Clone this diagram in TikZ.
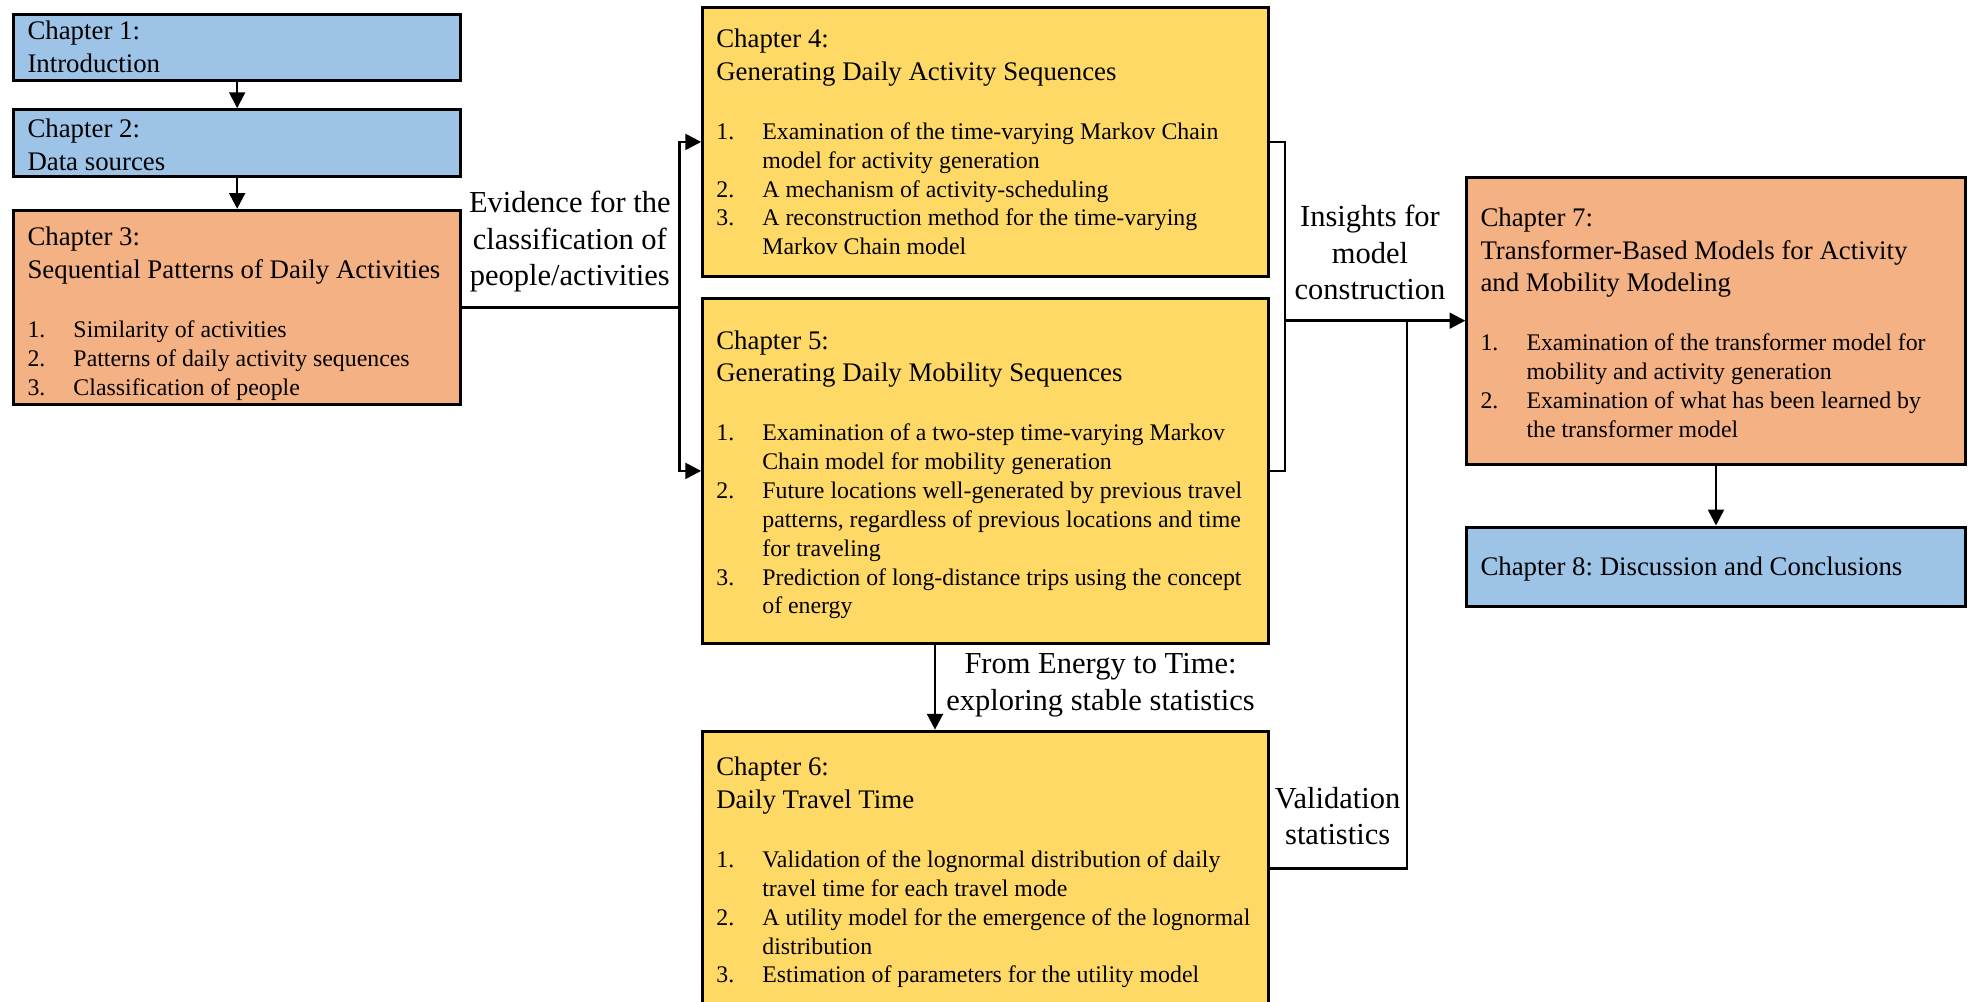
\documentclass[tikz,border=0pt]{standalone}
\usepackage{fontspec}
\setmainfont{Liberation Serif}
\usetikzlibrary{arrows.meta, positioning}

\definecolor{chblue}{HTML}{9DC3E6}
\definecolor{chorange}{HTML}{F4B183}
\definecolor{chyellow}{HTML}{FFD966}

\newcommand{\fixspace}{\spaceskip=\fontdimen2\font\xspaceskip=\fontdimen2\font\relax}
\newcommand{\titlefont}{\fontsize{16.1pt}{19.6pt}\selectfont\fixspace}
\newcommand{\itemfont}{\fontsize{14.3pt}{17.3pt}\selectfont\fixspace}
\newcommand{\lblfont}{\fontsize{18.3pt}{21.9pt}\selectfont}
\newcommand{\chtitle}[1]{\titlefont #1\par\vspace{18.2pt}}
\newcommand{\chitem}[2]{\par\hangindent=27.6pt\hangafter=1\noindent\makebox[27.6pt][l]{#1}#2}
% closes the list; a negative kern lowers the text block by half of it
\newcommand{\chend}[1][0pt]{\par\kern-#1\relax}

\tikzset{
  >={Triangle[length=9.5pt, width=9.5pt]},
  chap/.style   = {draw, line width=1.8pt, align=left, inner xsep=8.2pt,
                   inner ysep=0pt, font=\titlefont},
  intro/.style  = {chap, fill=chblue},
  core/.style   = {chap, fill=chorange},
  gen/.style    = {chap, fill=chyellow},
  lcol/.style   = {text width=251.6pt},
  mcol/.style   = {text width=322.8pt},
  rcol/.style   = {text width=282.6pt},
  lbl/.style    = {align=center, font=\lblfont, inner sep=0pt},
  link/.style   = {line width=1.5pt},
  arrow/.style  = {->, line width=1.5pt},
}

\begin{document}
\frenchspacing
\begin{tikzpicture}
  \useasboundingbox (0,0) rectangle (1183.8pt,-600.6pt);

  % left column
  \node[intro, lcol, minimum height=39.5pt, anchor=north west] (ch1) at (7.4pt,-7.6pt)
    {\titlefont Chapter 1:\\Introduction\par};
  \node[intro, lcol, minimum height=40pt, below=16pt of ch1] (ch2)
    {\titlefont Chapter 2:\\Data sources\chend[2pt]};
  \node[core, lcol, minimum height=116.3pt, below=18.6pt of ch2] (ch3)
    {\chtitle{Chapter 3:\\Sequential Patterns of Daily Activities}\itemfont
     \chitem{1.}{Similarity of activities}
     \chitem{2.}{Patterns of daily activity sequences}
     \chitem{3.}{Classification of people}\chend[7.6pt]};

  % middle column
  \node[gen, mcol, minimum height=161.3pt, anchor=north west] (ch4) at (420.7pt,-3.6pt)
    {\chtitle{Chapter 4:\\Generating Daily Activity Sequences}\itemfont
     \chitem{1.}{Examination of the time-varying Markov Chain\newline model for activity generation}
     \chitem{2.}{A mechanism of activity-scheduling}
     \chitem{3.}{A reconstruction method for the time-varying\newline Markov Chain model}\chend};
  \node[gen, mcol, minimum height=206.7pt, below=11.6pt of ch4] (ch5)
    {\chtitle{Chapter 5:\\Generating Daily Mobility Sequences}\itemfont
     \chitem{1.}{Examination of a two-step time-varying Markov\newline Chain model for mobility generation}
     \chitem{2.}{Future locations well-generated by previous travel\newline patterns, regardless of previous locations and time\newline for traveling}
     \chitem{3.}{Prediction of long-distance trips using the concept\newline of energy}\chend[4.6pt]};
  \node[gen, mcol, minimum height=165pt, below=51pt of ch5] (ch6)
    {\chtitle{Chapter 6:\\Daily Travel Time}\itemfont
     \chitem{1.}{Validation of the lognormal distribution of daily\newline travel time for each travel mode}
     \chitem{2.}{A utility model for the emergence of the lognormal\newline distribution}
     \chitem{3.}{Estimation of parameters for the utility model}\chend[4.6pt]};

  % right column
  \node[core, rcol, minimum height=172pt, anchor=north west] (ch7) at (879.2pt,-105.5pt)
    {\chtitle{Chapter 7:\\Transformer-Based Models for Activity\\and Mobility Modeling}\itemfont
     \chitem{1.}{Examination of the transformer model for\newline mobility and activity generation}
     \chitem{2.}{Examination of what has been learned by\newline the transformer model}\chend[2.4pt]};
  \node[intro, rcol, minimum height=47.4pt, below=36pt of ch7] (ch8)
    {\titlefont Chapter 8: Discussion and Conclusions\chend[4.6pt]};

  % junction columns
  \coordinate (ev)  at (407.7pt,0);
  \coordinate (ins) at (771pt,0);
  \coordinate (val) at (844.2pt,0);
  \coordinate (fe)  at (561pt,0);

  % connectors
  \draw[arrow] (ch1.south) -- (ch2.north);
  \draw[arrow] (ch2.south) -- (ch3.north);
  \draw[arrow] (ch3.east) -- (ch3.east -| ev) |- (ch4.west);
  \draw[arrow] (ch3.east -| ev) |- (ch5.west);
  \draw[link]  (ch4.east) -| (ins |- ch5.east) -- (ch5.east);
  \draw[arrow] (ins |- ch7.west) -- (ch7.west);
  \draw[link]  (ch6.east) -| (val |- ch7.west);
  \draw[arrow] (ch5.south -| fe) -- (ch6.north -| fe);
  \draw[arrow] (ch7.south) -- (ch8.north);

  % connector labels
  \node[lbl] (evlbl)  at (341.9pt,-145pt)   {Evidence for the\\classification of\\people/activities};
  \node[lbl] (inslbl) at (822pt,-151.6pt)   {Insights for\\model\\construction};
  \node[lbl] (felbl)  at (660.3pt,-411pt)   {From Energy to Time:\\exploring stable statistics};
  \node[lbl] (vallbl) at (802.6pt,-489.6pt) {Validation\\statistics};
\end{tikzpicture}
\end{document}
